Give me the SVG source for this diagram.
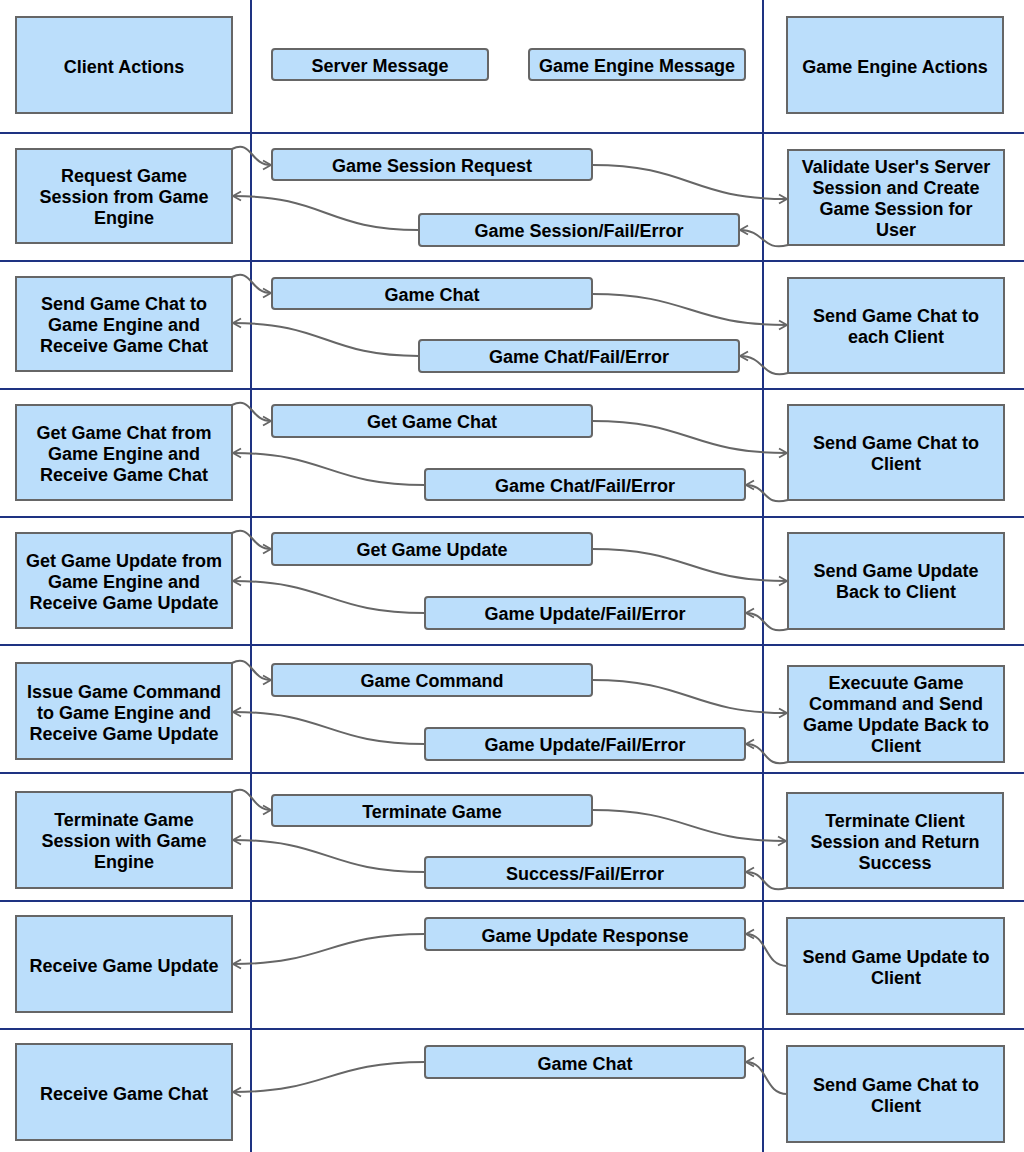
<svg xmlns="http://www.w3.org/2000/svg" width="1024" height="1152" viewBox="0 0 1024 1152">
<defs>
<style>
.box{fill:#bbdefb;stroke:#666666;stroke-width:2}
.msg{fill:#bbdefb;stroke:#666666;stroke-width:2}
.t{font-family:"Liberation Sans",Arial,sans-serif;font-size:18px;font-weight:bold;fill:#000;text-anchor:middle;transform:translate(0px,1px)}
.lane{stroke:#1e3282;stroke-width:2;fill:none}
.c{fill:none;stroke:#666666;stroke-width:2;marker-end:url(#ah)}
</style>
<marker id="ah" markerUnits="userSpaceOnUse" markerWidth="12" markerHeight="12" refX="9" refY="5" orient="auto" viewBox="0 0 12 10">
<path d="M1,0.5 L9,5 L1,9.5" fill="none" stroke="#666666" stroke-width="1.8"/>
</marker>
</defs>
<rect width="1024" height="1152" fill="#ffffff"/>
<g id="lanes">
<line class="lane" x1="251" y1="0" x2="251" y2="1152"/>
<line class="lane" x1="763" y1="0" x2="763" y2="1152"/>
<line class="lane" x1="0" y1="133" x2="1024" y2="133"/>
<line class="lane" x1="0" y1="261" x2="1024" y2="261"/>
<line class="lane" x1="0" y1="389" x2="1024" y2="389"/>
<line class="lane" x1="0" y1="517" x2="1024" y2="517"/>
<line class="lane" x1="0" y1="645" x2="1024" y2="645"/>
<line class="lane" x1="0" y1="773" x2="1024" y2="773"/>
<line class="lane" x1="0" y1="901" x2="1024" y2="901"/>
<line class="lane" x1="0" y1="1029" x2="1024" y2="1029"/>
</g>
<g id="connectors">
<path class="c" d="M232,149 C252,139 250,165 271,165"/>
<path class="c" d="M592,165 C690,165 690,199 787,199"/>
<path class="c" d="M788,245 C762,252 765,230 740,230"/>
<path class="c" d="M419,230 C326,230 326,196 233,196"/>
<path class="c" d="M232,277 C252,267 250,293 271,293"/>
<path class="c" d="M592,294 C690,294 690,325 787,325"/>
<path class="c" d="M788,373 C762,380 765,356 740,356"/>
<path class="c" d="M419,356 C326,356 326,323 233,323"/>
<path class="c" d="M232,405 C252,395 250,421 271,421"/>
<path class="c" d="M592,421 C690,421 690,453 787,453"/>
<path class="c" d="M788,500 C762,507 768,485 746,485"/>
<path class="c" d="M425,485 C328,485 328,453 233,453"/>
<path class="c" d="M232,533 C252,523 250,549 271,549"/>
<path class="c" d="M592,549 C690,549 690,581 787,581"/>
<path class="c" d="M788,629 C762,636 768,613 746,613"/>
<path class="c" d="M425,613 C328,613 328,581 233,581"/>
<path class="c" d="M232,663 C252,653 250,680 271,680"/>
<path class="c" d="M592,680 C690,680 690,713 787,713"/>
<path class="c" d="M788,762 C762,769 768,744 746,744"/>
<path class="c" d="M425,744 C328,744 328,712 233,712"/>
<path class="c" d="M232,792 C252,782 250,810 271,810"/>
<path class="c" d="M592,810 C690,810 690,841 786,841"/>
<path class="c" d="M787,888 C761,895 768,872 746,872"/>
<path class="c" d="M425,872 C328,872 328,840 233,840"/>
<path class="c" d="M787,966 C764,966 768,934 746,934"/>
<path class="c" d="M425,934 C328,934 328,964 233,964"/>
<path class="c" d="M787,1094 C764,1094 768,1062 746,1062"/>
<path class="c" d="M425,1062 C328,1062 328,1092 233,1092"/>
</g>
<g id="n-client-actions"><rect class="box" x="16" y="17" width="216" height="96"/><text class="t" x="124" y="72">Client Actions</text></g>
<g id="n-server-message"><rect class="msg" x="272" y="49" width="216" height="31" rx="3"/><text class="t" x="380" y="71">Server Message</text></g>
<g id="n-engine-message"><rect class="msg" x="529" y="49" width="216" height="31" rx="3"/><text class="t" x="637" y="71">Game Engine Message</text></g>
<g id="n-engine-actions"><rect class="box" x="787" y="17" width="216" height="96"/><text class="t" x="895" y="72">Game Engine Actions</text></g>
<g id="n-r1-client"><rect class="box" x="16" y="149" width="216" height="94"/><text class="t" x="124" y="181">Request Game</text><text class="t" x="124" y="202">Session from Game</text><text class="t" x="124" y="223">Engine</text></g>
<g id="n-r1-req"><rect class="msg" x="272" y="149" width="320" height="31" rx="3"/><text class="t" x="432" y="171">Game Session Request</text></g>
<g id="n-r1-resp"><rect class="msg" x="419" y="214" width="320" height="32" rx="3"/><text class="t" x="579" y="236">Game Session/Fail/Error</text></g>
<g id="n-r1-engine"><rect class="box" x="788" y="150" width="216" height="95"/><text class="t" x="896" y="172">Validate User's Server</text><text class="t" x="896" y="193">Session and Create</text><text class="t" x="896" y="214">Game Session for</text><text class="t" x="896" y="235">User</text></g>
<g id="n-r2-client"><rect class="box" x="16" y="277" width="216" height="94"/><text class="t" x="124" y="309">Send Game Chat to</text><text class="t" x="124" y="330">Game Engine and</text><text class="t" x="124" y="351">Receive Game Chat</text></g>
<g id="n-r2-req"><rect class="msg" x="272" y="278" width="320" height="31" rx="3"/><text class="t" x="432" y="300">Game Chat</text></g>
<g id="n-r2-resp"><rect class="msg" x="419" y="340" width="320" height="32" rx="3"/><text class="t" x="579" y="362">Game Chat/Fail/Error</text></g>
<g id="n-r2-engine"><rect class="box" x="788" y="278" width="216" height="95"/><text class="t" x="896" y="321">Send Game Chat to</text><text class="t" x="896" y="342">each Client</text></g>
<g id="n-r3-client"><rect class="box" x="16" y="405" width="216" height="95"/><text class="t" x="124" y="438">Get Game Chat from</text><text class="t" x="124" y="459">Game Engine and</text><text class="t" x="124" y="480">Receive Game Chat</text></g>
<g id="n-r3-req"><rect class="msg" x="272" y="405" width="320" height="32" rx="3"/><text class="t" x="432" y="427">Get Game Chat</text></g>
<g id="n-r3-resp"><rect class="msg" x="425" y="469" width="320" height="31" rx="3"/><text class="t" x="585" y="491">Game Chat/Fail/Error</text></g>
<g id="n-r3-engine"><rect class="box" x="788" y="405" width="216" height="95"/><text class="t" x="896" y="448">Send Game Chat to</text><text class="t" x="896" y="469">Client</text></g>
<g id="n-r4-client"><rect class="box" x="16" y="533" width="216" height="95"/><text class="t" x="124" y="566">Get Game Update from</text><text class="t" x="124" y="587">Game Engine and</text><text class="t" x="124" y="608">Receive Game Update</text></g>
<g id="n-r4-req"><rect class="msg" x="272" y="533" width="320" height="32" rx="3"/><text class="t" x="432" y="555">Get Game Update</text></g>
<g id="n-r4-resp"><rect class="msg" x="425" y="597" width="320" height="32" rx="3"/><text class="t" x="585" y="619">Game Update/Fail/Error</text></g>
<g id="n-r4-engine"><rect class="box" x="788" y="533" width="216" height="96"/><text class="t" x="896" y="576">Send Game Update</text><text class="t" x="896" y="597">Back to Client</text></g>
<g id="n-r5-client"><rect class="box" x="16" y="663" width="216" height="96"/><text class="t" x="124" y="697">Issue Game Command</text><text class="t" x="124" y="718">to Game Engine and</text><text class="t" x="124" y="739">Receive Game Update</text></g>
<g id="n-r5-req"><rect class="msg" x="272" y="664" width="320" height="32" rx="3"/><text class="t" x="432" y="686">Game Command</text></g>
<g id="n-r5-resp"><rect class="msg" x="425" y="728" width="320" height="32" rx="3"/><text class="t" x="585" y="750">Game Update/Fail/Error</text></g>
<g id="n-r5-engine"><rect class="box" x="788" y="666" width="216" height="96"/><text class="t" x="896" y="688">Execuute Game</text><text class="t" x="896" y="709">Command and Send</text><text class="t" x="896" y="730">Game Update Back to</text><text class="t" x="896" y="751">Client</text></g>
<g id="n-r6-client"><rect class="box" x="16" y="792" width="216" height="96"/><text class="t" x="124" y="825">Terminate Game</text><text class="t" x="124" y="846">Session with Game</text><text class="t" x="124" y="867">Engine</text></g>
<g id="n-r6-req"><rect class="msg" x="272" y="795" width="320" height="31" rx="3"/><text class="t" x="432" y="817">Terminate Game</text></g>
<g id="n-r6-resp"><rect class="msg" x="425" y="857" width="320" height="31" rx="3"/><text class="t" x="585" y="879">Success/Fail/Error</text></g>
<g id="n-r6-engine"><rect class="box" x="787" y="793" width="216" height="95"/><text class="t" x="895" y="826">Terminate Client</text><text class="t" x="895" y="847">Session and Return</text><text class="t" x="895" y="868">Success</text></g>
<g id="n-r7-client"><rect class="box" x="16" y="916" width="216" height="96"/><text class="t" x="124" y="971">Receive Game Update</text></g>
<g id="n-r7-resp"><rect class="msg" x="425" y="918" width="320" height="32" rx="3"/><text class="t" x="585" y="941">Game Update Response</text></g>
<g id="n-r7-engine"><rect class="box" x="787" y="918" width="217" height="96"/><text class="t" x="896" y="962">Send Game Update to</text><text class="t" x="896" y="983">Client</text></g>
<g id="n-r8-client"><rect class="box" x="16" y="1044" width="216" height="96"/><text class="t" x="124" y="1099">Receive Game Chat</text></g>
<g id="n-r8-resp"><rect class="msg" x="425" y="1046" width="320" height="32" rx="3"/><text class="t" x="585" y="1069">Game Chat</text></g>
<g id="n-r8-engine"><rect class="box" x="787" y="1046" width="217" height="96"/><text class="t" x="896" y="1090">Send Game Chat to</text><text class="t" x="896" y="1111">Client</text></g>
</svg>
